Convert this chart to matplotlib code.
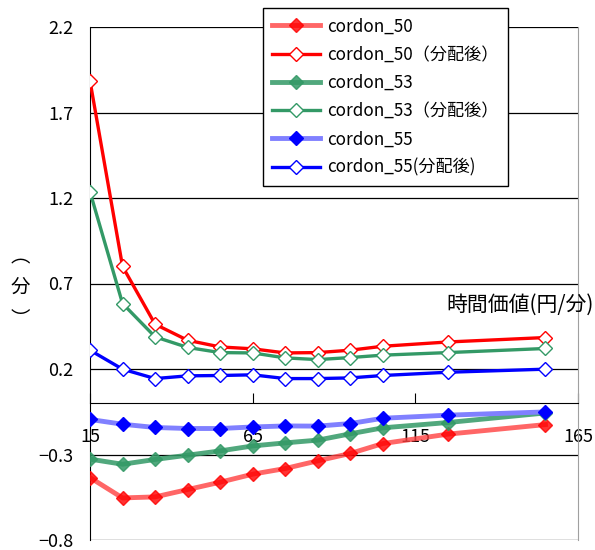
import matplotlib.pyplot as plt
import numpy as np

plt.rcParams['font.family'] = ['Noto Sans CJK JP', 'DejaVu Sans']

# time value (yen/min)
x = [15, 25, 35, 45, 55, 65, 75, 85, 95, 105, 125, 155]

c50 = [-0.435, -0.554, -0.548, -0.505, -0.462, -0.415, -0.382, -0.337, -0.294, -0.236, -0.181, -0.125]
c50_after = [1.885, 0.80, 0.462, 0.368, 0.329, 0.318, 0.294, 0.296, 0.31, 0.333, 0.358, 0.384]
c53 = [-0.327, -0.357, -0.329, -0.304, -0.279, -0.25, -0.232, -0.216, -0.179, -0.144, -0.113, -0.057]
c53_after = [1.236, 0.583, 0.388, 0.326, 0.296, 0.294, 0.265, 0.255, 0.267, 0.281, 0.296, 0.32]
c55 = [-0.095, -0.123, -0.142, -0.148, -0.148, -0.139, -0.133, -0.134, -0.119, -0.088, -0.07, -0.051]
c55_after = [0.31, 0.199, 0.144, 0.16, 0.162, 0.166, 0.144, 0.144, 0.148, 0.162, 0.181, 0.199]

labels = ['cordon_50', 'cordon_50（分配後）', 'cordon_53', 'cordon_53（分配後）',
          'cordon_55', 'cordon_55(分配後)']

fig = plt.figure(figsize=(5.95, 5.5), dpi=100)
ax = fig.add_axes([90 / 595, 10 / 550, 488 / 595, 513 / 550])

green = '#339966'
# base case: filled diamonds, heavy line
ax.plot(x, c50, color='#ff4040', lw=3.5, alpha=0.8, marker='D', ms=7.5,
        mfc='red', mec='red', label=labels[0], zorder=3)
# after redistribution: hollow diamonds
ax.plot(x, c50_after, color='red', lw=2.4, marker='D', ms=7,
        mfc='white', mec='red', mew=1, label=labels[1], zorder=4)
ax.plot(x, c53, color=green, lw=3.5, alpha=0.85, marker='D', ms=7.5,
        mfc=green, mec=green, label=labels[2], zorder=3)
ax.plot(x, c53_after, color=green, lw=2.4, marker='D', ms=7,
        mfc='white', mec=green, mew=1, label=labels[3], zorder=4)
ax.plot(x, c55, color='#8080ff', lw=3.5, marker='D', ms=7.5,
        mfc='blue', mec='blue', label=labels[4], zorder=3)
ax.plot(x, c55_after, color='blue', lw=2.4, marker='D', ms=7,
        mfc='white', mec='blue', mew=1, label=labels[5], zorder=4)

ax.set_xlim(15, 165)
ax.set_ylim(-0.8, 2.2)
ax.set_xticks([15, 65, 115, 165])
ax.set_yticks(np.arange(-0.8, 2.21, 0.5))
ax.set_yticklabels(['−0.8', '−0.3', '0.2', '0.7', '1.2', '1.7', '2.2'])
ax.yaxis.grid(True, color='black', lw=0.9)
ax.set_axisbelow(True)

ax.spines['bottom'].set_position(('data', 0))
ax.spines['bottom'].set_color('black')
ax.spines['left'].set_color('black')
ax.spines['right'].set_color('#a0a0a0')
ax.spines['top'].set_visible(False)
ax.tick_params(axis='x', direction='in', length=7, pad=18, labelsize=13)
ax.tick_params(axis='y', length=0, pad=12, labelsize=13)

# vertical axis title, stacked top to bottom
for ch, ypix in [('︵', 257), ('分', 287), ('︶', 320)]:
    fig.text(20 / 595, 1 - ypix / 550, ch, fontsize=14,
             ha='center', va='center')
fig.text(594 / 595, 1 - 305 / 550, '時間価値(円/分)', fontsize=15,
         ha='right', va='center')

leg = fig.legend(loc='upper left', bbox_to_anchor=(263 / 595, 1 - 8 / 550),
                 fontsize=12.3, frameon=True, fancybox=False, edgecolor='black',
                 framealpha=1, handlelength=2.8, handletextpad=0.4,
                 labelspacing=0.6, borderpad=0.55, borderaxespad=0)
leg.get_frame().set_linewidth(1)

plt.savefig('out.png', dpi=100)
